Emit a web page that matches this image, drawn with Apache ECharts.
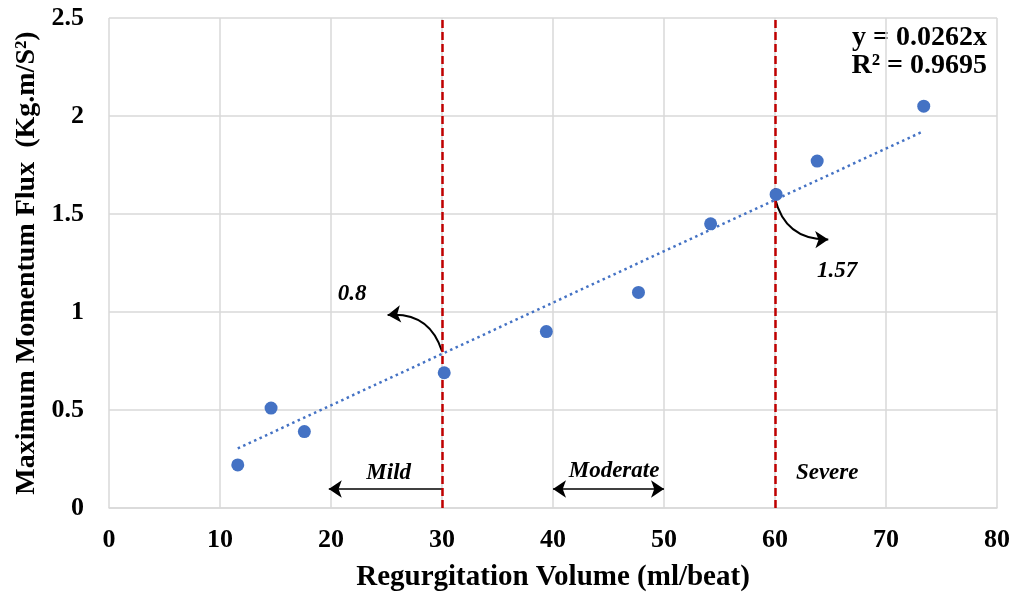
<!DOCTYPE html>
<html><head><meta charset="utf-8">
<script src="https://cdn.jsdelivr.net/npm/echarts@6/dist/echarts.min.js"></script>
<style>html,body{margin:0;padding:0;background:#fff}#c{width:1016px;height:599px}</style>
</head><body><div id="c"></div>
<script>
const volume = [11.6, 14.6, 17.6, 30.2, 39.4, 47.7, 54.2, 60.1, 63.8, 73.4];
const flux   = [0.22, 0.51, 0.39, 0.69, 0.90, 1.10, 1.45, 1.60, 1.77, 2.05];
const slope = 0.0262;
const trendX = [11.6, 73.4];
const thresholds = [30, 60];
const xTicks = [0, 80, 10];
const yTicks = [0, 2.5, 0.5];
const annoLabels = [
  {name: '0.8', x: 21.9, y: 1.09},
  {name: '1.57', x: 65.6, y: 1.21},
  {name: 'Mild', x: 25.2, y: 0.18},
  {name: 'Moderate', x: 45.5, y: 0.19},
  {name: 'Severe', x: 64.7, y: 0.18}
];
const curvedArrows = [
  {from: [30, 0.8], to: [25.1, 0.985], curve: -0.4},
  {from: [60, 1.58], to: [64.8, 1.37], curve: -0.4}
];
const rangeArrows = [
  {from: [30, 0.097], to: [19.8, 0.097], both: false},
  {from: [40, 0.097], to: [50, 0.097], both: true}
];
const eqText = 'y = 0.0262x\nR² = 0.9695';

const FONT = 'Liberation Serif';
const chart = echarts.init(document.getElementById('c'));
chart.setOption({
  animation: false,
  grid: {left: 109, right: 19, top: 18, bottom: 91},
  xAxis: {
    type: 'value', min: xTicks[0], max: xTicks[1], interval: xTicks[2],
    name: 'Regurgitation Volume (ml/beat)', nameLocation: 'middle', nameGap: 55,
    nameTextStyle: {fontFamily: FONT, fontWeight: 'bold', fontSize: 29, color: '#000'},
    axisLine: {show: true, lineStyle: {color: '#d9d9d9', width: 1.5}},
    axisTick: {show: false},
    axisLabel: {fontFamily: FONT, fontWeight: 'bold', fontSize: 26, color: '#000', margin: 19},
    splitLine: {show: true, lineStyle: {color: '#d9d9d9', width: 1.5}}
  },
  yAxis: {
    type: 'value', min: yTicks[0], max: yTicks[1], interval: yTicks[2],
    name: 'Maximum Momentum Flux  (Kg.m/S²)', nameLocation: 'middle', nameGap: 65,
    nameTextStyle: {fontFamily: FONT, fontWeight: 'bold', fontSize: 28, color: '#000'},
    axisLine: {show: false},
    axisTick: {show: false},
    axisLabel: {fontFamily: FONT, fontWeight: 'bold', fontSize: 26, color: '#000', margin: 25},
    splitLine: {show: true, lineStyle: {color: '#d9d9d9', width: 1.5}}
  },
  graphic: [{
    type: 'text', right: 29, top: 24,
    style: {text: eqText, font: 'bold 28px "Liberation Serif"', fill: '#000', textAlign: 'right', lineHeight: 28}
  }],
  series: [
    {
      type: 'line', data: trendX.map(x => [x, slope * x]), showSymbol: false, symbol: 'none',
      lineStyle: {color: '#4472C4', width: 2.5, type: [2.5, 3.5], opacity: 1}, z: 3,
      markLine: {
        silent: true, symbol: 'none', label: {show: false},
        lineStyle: {color: '#C00000', width: 2.5, type: [8, 4], opacity: 1},
        data: thresholds.map(t => [{coord: [t, yTicks[0]]}, {coord: [t, yTicks[1]]}])
      }
    },
    {
      type: 'scatter', data: volume.map((v, i) => [v, flux[i]]), symbolSize: 13,
      itemStyle: {color: '#4472C4', opacity: 1}, z: 5
    },
    {
      type: 'lines', coordinateSystem: 'cartesian2d', z: 4,
      symbol: ['none', 'arrow'], symbolSize: 13,
      lineStyle: {color: '#000', width: 2, curveness: -0.4, opacity: 1},
      data: curvedArrows.map(a => ({coords: [a.from, a.to], lineStyle: {curveness: a.curve}}))
    },
    {
      type: 'lines', coordinateSystem: 'cartesian2d', z: 4,
      symbolSize: 13,
      lineStyle: {color: '#000', width: 1.6, curveness: 0, opacity: 1},
      data: rangeArrows.map(a => ({coords: [a.from, a.to], symbol: a.both ? ['arrow', 'arrow'] : ['none', 'arrow']}))
    },
    {
      type: 'scatter', symbolSize: 0, z: 6, itemStyle: {opacity: 1},
      data: annoLabels.map(a => ({name: a.name, value: [a.x, a.y]})),
      label: {show: true, position: 'inside', formatter: p => p.name, opacity: 1,
        fontFamily: FONT, fontWeight: 'bold', fontStyle: 'italic', fontSize: 23, color: '#000'}
    }
  ]
});
</script></body></html>
